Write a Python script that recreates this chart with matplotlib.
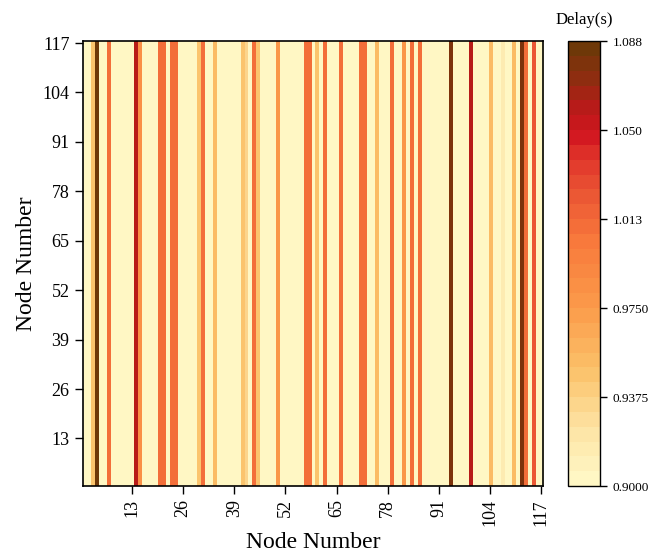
import numpy as np
import matplotlib
matplotlib.use("Agg")
import matplotlib.pyplot as plt
from matplotlib.colors import LinearSegmentedColormap

plt.rcParams['font.family'] = ['Liberation Serif', 'DejaVu Serif']

n_nodes = 117
base_delay = 0.902

# Per-node delay (s) for nodes whose delay stands out from the baseline
node_ids = [3, 4, 7, 14, 15, 20, 21, 23, 24, 30, 31, 34, 41, 42, 44, 45, 50,
            57, 58, 60, 62, 66, 71, 72, 75, 79, 82, 84, 86, 94, 99, 104, 107,
            110, 112, 113, 115]
node_delays = [0.945, 1.088, 1.010, 1.060, 0.985, 1.010, 1.010, 1.010, 1.010,
               0.950, 1.010, 0.955, 0.945, 0.935, 1.010, 0.950, 0.975,
               1.010, 1.010, 0.945, 1.010, 1.010, 1.010, 1.010, 0.955, 1.010,
               0.975, 1.010, 1.010, 1.080, 1.060, 0.955, 0.915,
               0.955, 1.075, 1.010, 1.025]

col_delay = np.full(n_nodes, base_delay)
for nid, d in zip(node_ids, node_delays):
    col_delay[nid - 1] = d
delay = np.tile(col_delay, (n_nodes, 1))

tick_vals = [13, 26, 39, 52, 65, 78, 91, 104, 117]
cbar_ticks = [0.9000, 0.9375, 0.9750, 1.0125, 1.0500, 1.0875]
cbar_labels = ['0.9000', '0.9375', '0.9750', '1.013', '1.050', '1.088']

cmap = LinearSegmentedColormap.from_list(
    'delay',
    [(0.00, '#fff7c4'), (0.12, '#fde3a3'), (0.25, '#fbc26a'),
     (0.40, '#fb9a4a'), (0.55, '#f87a3c'), (0.65, '#ec5a35'),
     (0.75, '#e0332a'), (0.80, '#d1151f'), (0.87, '#b41c18'),
     (0.93, '#8e2d10'), (1.00, '#6e3808')], N=30)

fig = plt.figure(figsize=(6.52, 5.54), dpi=100)
ax = fig.add_axes([0.127, 0.1227, 0.706, 0.803])
im = ax.imshow(delay, cmap=cmap, vmin=0.9, vmax=1.0875, origin='lower',
               extent=[0.5, n_nodes + 0.5, 0.5, n_nodes + 0.5],
               aspect='auto', interpolation='nearest')

ax.set_xticks(tick_vals)
ax.set_yticks(tick_vals)
ax.set_xticklabels([str(t) for t in tick_vals], rotation=90, fontsize=13)
ax.set_yticklabels([str(t) for t in tick_vals], fontsize=13)
ax.tick_params(direction='out', length=6, width=1)
for s in ax.spines.values():
    s.set_linewidth(1.2)
ax.set_xlabel('Node Number', fontsize=17)
ax.set_ylabel('Node Number', fontsize=17)

cax = fig.add_axes([0.871, 0.1227, 0.050, 0.803])
cb = fig.colorbar(im, cax=cax, ticks=cbar_ticks)
cb.ax.set_yticklabels(cbar_labels, fontsize=9.5)
cb.ax.tick_params(direction='out', length=5, width=1)
cb.outline.set_linewidth(1.0)
cax.set_title('Delay(s)', fontsize=12, pad=12)

fig.savefig('out.png', dpi=100)
